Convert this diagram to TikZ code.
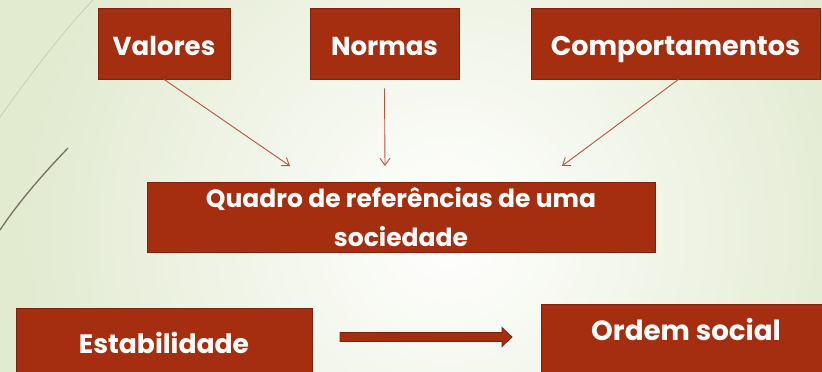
\documentclass[tikz,border=0pt]{standalone}
\usepackage{fontspec}
\setmainfont{Poppins}
\usetikzlibrary{arrows.meta}
\definecolor{boxred}{RGB}{165,46,16}
\definecolor{boxedge}{RGB}{125,34,12}
\definecolor{thinarrow}{RGB}{185,85,60}
\definecolor{bggreen}{RGB}{226,234,208}
\definecolor{curvelight}{RGB}{200,200,185}
\definecolor{curvedark}{RGB}{120,112,95}
\tikzset{
  redbox/.style={draw=boxedge, line width=0.8pt, fill=boxred, text=white,
    font=\bfseries\fontsize{26}{30}\selectfont, inner sep=0pt, align=center},
  topbox/.style={redbox, text height=47pt, text depth=24pt},
  thin/.style={draw=thinarrow, line width=0.9pt, -{Straight Barb[length=7pt,width=10pt]}},
}
\begin{document}
\begin{tikzpicture}[x=1pt,y=-1pt]
\useasboundingbox (0,0) rectangle (822,372);
\fill[bggreen] (0,0) rectangle (822,372);
\shade[inner color=white, outer color=bggreen] (450,230) circle (430);
% decorative curves
\draw[curvelight, line width=0.7pt] (0,117) .. controls (30,75) and (60,35) .. (93,0);
\draw[curvedark, line width=1.3pt] (0,230) .. controls (20,200) and (45,172) .. (68,148);
% boxes
\node[topbox, minimum width=132pt] (val) at (164,43.5) {Valores};
\node[topbox, minimum width=149pt] (nor) at (384.5,43.5) {Normas};
\node[topbox, minimum width=289pt, font=\bfseries\fontsize{27}{30}\selectfont] (com) at (675.5,43.5) {Comportamentos};
\node[redbox, minimum width=508pt, minimum height=70pt, font=\bfseries\fontsize{25}{39}\selectfont] (qua) at (401,217) {Quadro de referências de uma\\sociedade};
\node[redbox, minimum width=296pt, text height=45pt, text depth=30pt, font=\bfseries\fontsize{26.6}{30}\selectfont] (est) at (164,345.5) {Estabilidade};
\node[redbox, minimum width=290pt, text height=36pt, text depth=40pt, font=\bfseries\fontsize{27.7}{30}\selectfont] (ord) at (686,342) {Ordem social};
% thick arrow
\filldraw[draw=boxedge, line width=0.8pt, fill=boxred]
  (340,332.5) -- (502,332.5) -- (502,327.5) -- (512,337) -- (502,346.5) -- (502,341.5) -- (340,341.5) -- cycle;
% thin arrows
\coordinate (t1) at (290,166);
\coordinate (t2) at (385,166);
\coordinate (t3) at (562,166);
\draw[thin] (val.south) -- (t1);
\draw[thin] ([yshift=-9pt]nor.south) -- (t2);
\draw[thin] ([xshift=3pt]com.south) -- (t3);
\end{tikzpicture}
\end{document}
